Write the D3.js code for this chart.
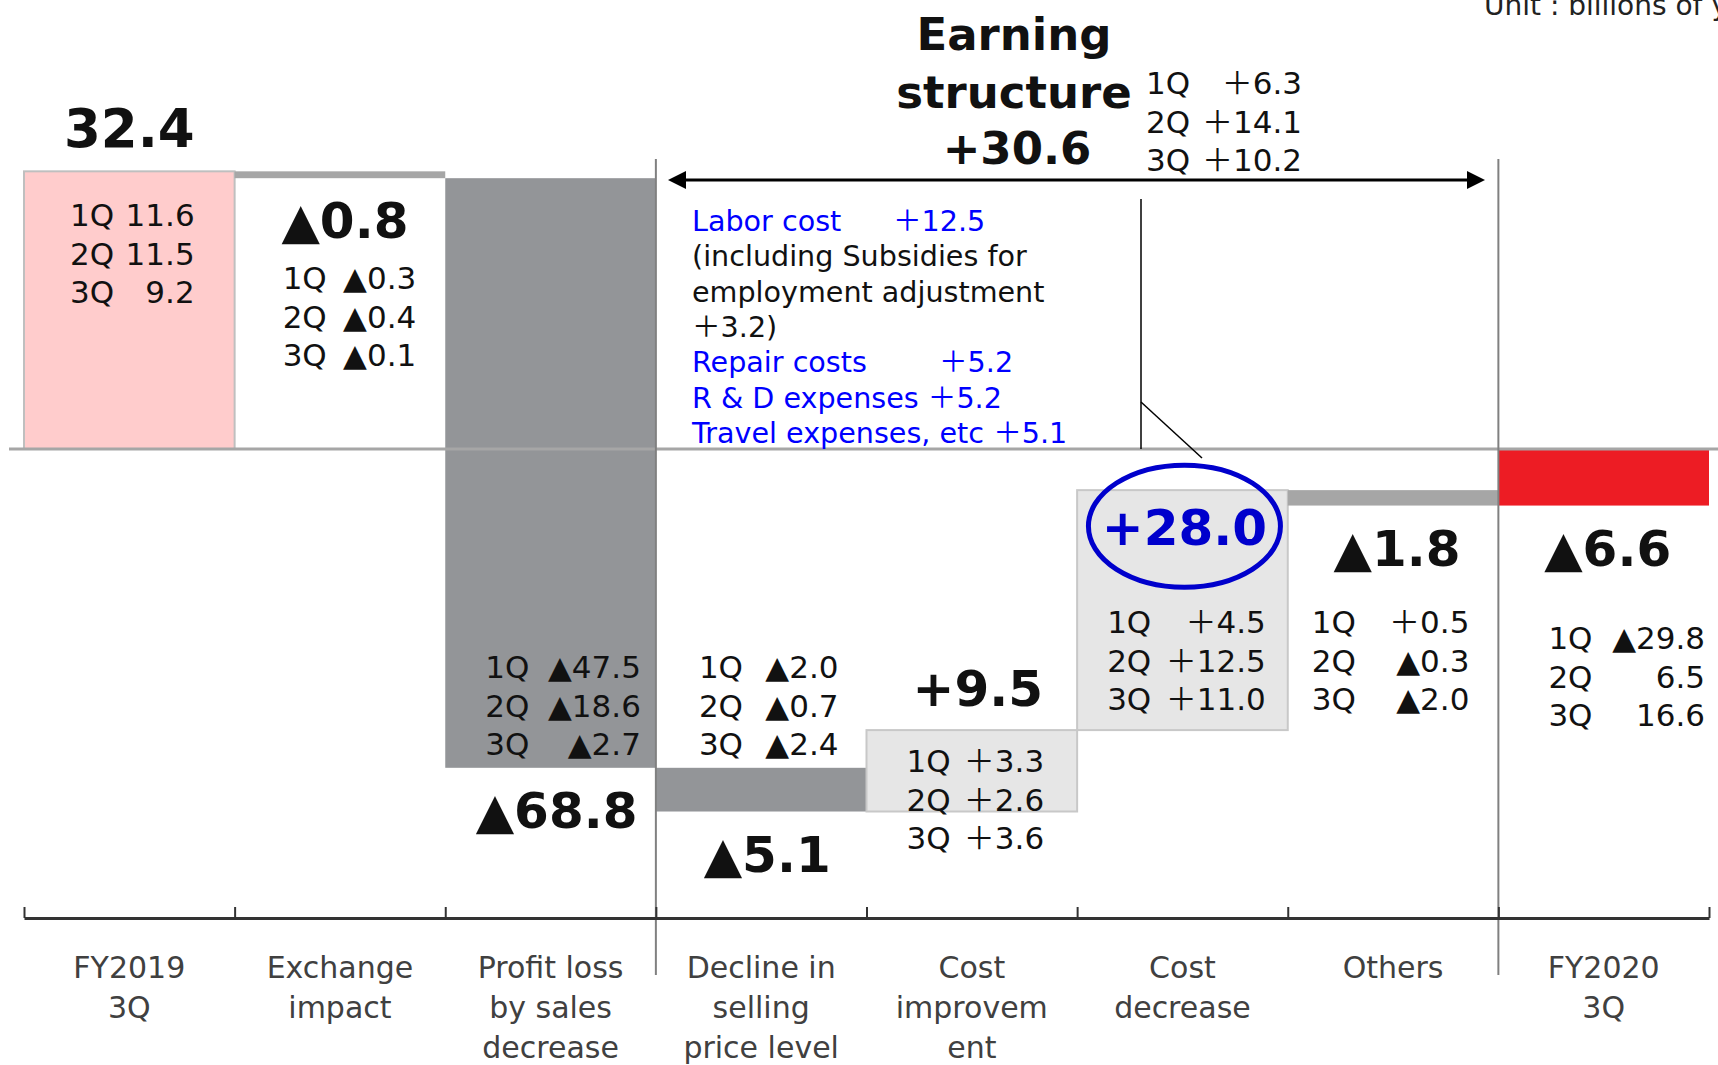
<!DOCTYPE html>
<html><head><meta charset="utf-8">
<script src="https://cdn.jsdelivr.net/npm/d3@7"></script>
<style>
html,body{margin:0;padding:0;background:#fff;overflow:hidden}
svg{display:block}
text{font-family:"DejaVu Sans","Noto Sans CJK JP",sans-serif}
</style></head><body>
<svg id="c" width="1718" height="1065"></svg>
<script>
// ---------- data ----------
const categories = ["FY2019 3Q","Exchange impact","Profit loss by sales decrease","Decline in selling price level","Cost improvement","Cost decrease","Others","FY2020 3Q"];
const categoryLines = [["FY2019","3Q"],["Exchange","impact"],["Profit loss","by sales","decrease"],["Decline in","selling","price level"],["Cost","improvem","ent"],["Cost","decrease"],["Others"],["FY2020","3Q"]];
const values = [32.4, -0.8, -68.8, -5.1, 9.5, 28.0, -1.8, -6.6];
const isTotal = [true,false,false,false,false,false,false,true];
const valueLabels = ["32.4","▲0.8","▲68.8","▲5.1","+9.5","+28.0","▲1.8","▲6.6"];
const quarters = ["1Q","2Q","3Q"];
const quarterValues = [
  ["11.6","11.5","9.2"],
  ["▲0.3","▲0.4","▲0.1"],
  ["▲47.5","▲18.6","▲2.7"],
  ["▲2.0","▲0.7","▲2.4"],
  ["＋3.3","＋2.6","＋3.6"],
  ["＋4.5","＋12.5","＋11.0"],
  ["＋0.5","▲0.3","▲2.0"],
  ["▲29.8","6.5","16.6"]
];
const structureTitle = ["Earning","structure","+30.6"];
const structureQuarters = ["＋6.3","＋14.1","＋10.2"];
const costNotes = [
  {label:"Labor cost", value:"＋12.5", blue:true},
  {label:"(including Subsidies for", value:"", blue:false},
  {label:"employment adjustment", value:"", blue:false},
  {label:"＋3.2)", value:"", blue:false},
  {label:"Repair costs", value:"＋5.2", blue:true},
  {label:"R & D expenses ＋5.2", value:"", blue:true},
  {label:"Travel expenses, etc ＋5.1", value:"", blue:true}
];
const unitText = "Unit : billions of yen";

// ---------- layout / style ----------
const svg = d3.select("#c");
const PX = 8.57, ZERO = 449;
const x = d3.scaleBand().domain(categories).range([24,1709]).padding(0);
const xb = d3.scaleLinear().domain([0,categories.length]).range([24,1709]);
const y = d3.scaleLinear().domain([-60,40]).range([ZERO+60*PX, ZERO-40*PX]);

const fills = ["#ffcccc","#a6a6a6","#939598","#939598","#e6e6e6","#e6e6e6","#a6a6a6","#ed1c24"];
const strokes = ["#bfbfbf",null,null,null,"#c8c8c8","#c8c8c8",null,null];

let run = 0;
const bars = values.map((v,i)=>{
  let a,b;
  if(isTotal[i]){a=0;b=v;run=v;} else {a=run;b=run+v;run=b;}
  return {i, cat:categories[i], v, lo:Math.min(a,b), hi:Math.max(a,b)};
});

// bars
svg.append("g").selectAll("rect").data(bars).join("rect")
  .attr("x", d=>x(d.cat))
  .attr("width", x.bandwidth())
  .attr("y", d=>y(d.hi))
  .attr("height", d=>y(d.lo)-y(d.hi))
  .attr("fill", d=>fills[d.i])
  .attr("stroke", d=>strokes[d.i]||"none")
  .attr("stroke-width", 2);

// zero line
svg.append("line").attr("x1",9).attr("x2",1718).attr("y1",y(0)).attr("y2",y(0))
  .attr("stroke","#a6a6a6").attr("stroke-width",3);

// section dividers
[3,7].forEach(k=>{
  svg.append("line").attr("x1",xb(k)).attr("x2",xb(k)).attr("y1",159).attr("y2",975)
    .attr("stroke","#808080").attr("stroke-width",2);
});

// axis
const ax = svg.append("g").attr("transform",`translate(0,918)`)
  .call(d3.axisBottom(xb).tickValues(d3.range(categories.length+1)).tickSize(-11).tickSizeOuter(0).tickFormat(""));
ax.select(".domain").attr("stroke","#333").attr("stroke-width",3);
ax.selectAll(".tick line").attr("stroke","#333").attr("stroke-width",2);

// category labels
categoryLines.forEach((lines,i)=>{
  const t = svg.append("text").attr("text-anchor","middle").attr("font-size",30).attr("fill","#404040");
  lines.forEach((s,j)=>{
    t.append("tspan").attr("x", x(categories[i])+x.bandwidth()/2).attr("y", 978+j*40).text(s);
  });
});

// big value labels
const dxBig = [0,5,6,6,6,2,4,4];
bars.forEach(d=>{
  const cx = x(d.cat)+x.bandwidth()/2+dxBig[d.i];
  let by, size=50, color="#111";
  if(d.i===5){ by = y(d.hi)+55; size=50; color="#0000cc"; }
  else if(d.v>0){ by = y(d.hi)-24; }
  else { by = y(d.lo)+60; }
  if(d.i===0) size=53;
  svg.append("text").attr("x",cx).attr("y",by).attr("text-anchor","middle")
    .attr("font-size",size).attr("font-weight","bold").attr("fill",color).text(valueLabels[d.i]);
  if(d.i===5){
    svg.append("ellipse").attr("cx",cx).attr("cy",y(d.hi)+36).attr("rx",96).attr("ry",61)
      .attr("fill","none").attr("stroke","#0000cc").attr("stroke-width",5);
  }
});

// quarter blocks  [left inset, right inset, first baseline]
const qLayout = [[46,40,226],[48,29,289],[40,15,678],[43,28,678],[40,33,772],[30,22,633],[24,29,633],[50,4,649]];
function qBlock(left,right,top,vals){
  vals.forEach((v,j)=>{
    svg.append("text").attr("x",left).attr("y",top+j*38.5).attr("font-size",31).attr("fill","#111").text(quarters[j]);
    svg.append("text").attr("x",right).attr("y",top+j*38.5).attr("font-size",31).attr("fill","#111")
      .attr("text-anchor","end").text(v);
  });
}
quarterValues.forEach((vals,i)=>{
  const L = qLayout[i];
  qBlock(x(categories[i])+L[0], x(categories[i])+x.bandwidth()-L[1], L[2], vals);
});
qBlock(1146,1302,94,structureQuarters);

// structure title
const tb = [50,108,164];
structureTitle.forEach((s,j)=>{
  svg.append("text").attr("x", j===2?1017:1014).attr("y",tb[j]).attr("text-anchor","middle")
    .attr("font-size",45).attr("font-weight","bold").attr("fill","#111").text(s);
});

// double arrow across the earning-structure section
const ax1 = 668, ax2 = 1485, ay = 180;
svg.append("line").attr("x1",ax1+10).attr("x2",ax2-10).attr("y1",ay).attr("y2",ay)
  .attr("stroke","#000").attr("stroke-width",3);
svg.append("path").attr("d",`M${ax1},${ay} L${ax1+18},${ay-9} L${ax1+18},${ay+9} Z`).attr("fill","#000");
svg.append("path").attr("d",`M${ax2},${ay} L${ax2-18},${ay-9} L${ax2-18},${ay+9} Z`).attr("fill","#000");

// connector from notes to cost decrease
svg.append("line").attr("x1",1141).attr("x2",1141).attr("y1",199).attr("y2",449).attr("stroke","#000").attr("stroke-width",1.5);
svg.append("line").attr("x1",1141).attr("x2",1202).attr("y1",402).attr("y2",458).attr("stroke","#000").attr("stroke-width",1.5);

// cost notes
const noteValX = {"Labor cost":893, "Repair costs":939};
costNotes.forEach((n,j)=>{
  const by = 231 + j*35.3;
  const col = n.blue ? "#0000ff" : "#111";
  svg.append("text").attr("x",692).attr("y",by).attr("font-size",28.6).attr("fill",col).text(n.label);
  if(n.value) svg.append("text").attr("x",noteValX[n.label]).attr("y",by).attr("font-size",28.6).attr("fill",col).text(n.value);
});

// unit (clipped by the top edge, as in the original)
svg.append("text").attr("x",1484).attr("y",15).attr("font-size",28).attr("fill","#222").text(unitText);
</script>
</body></html>
